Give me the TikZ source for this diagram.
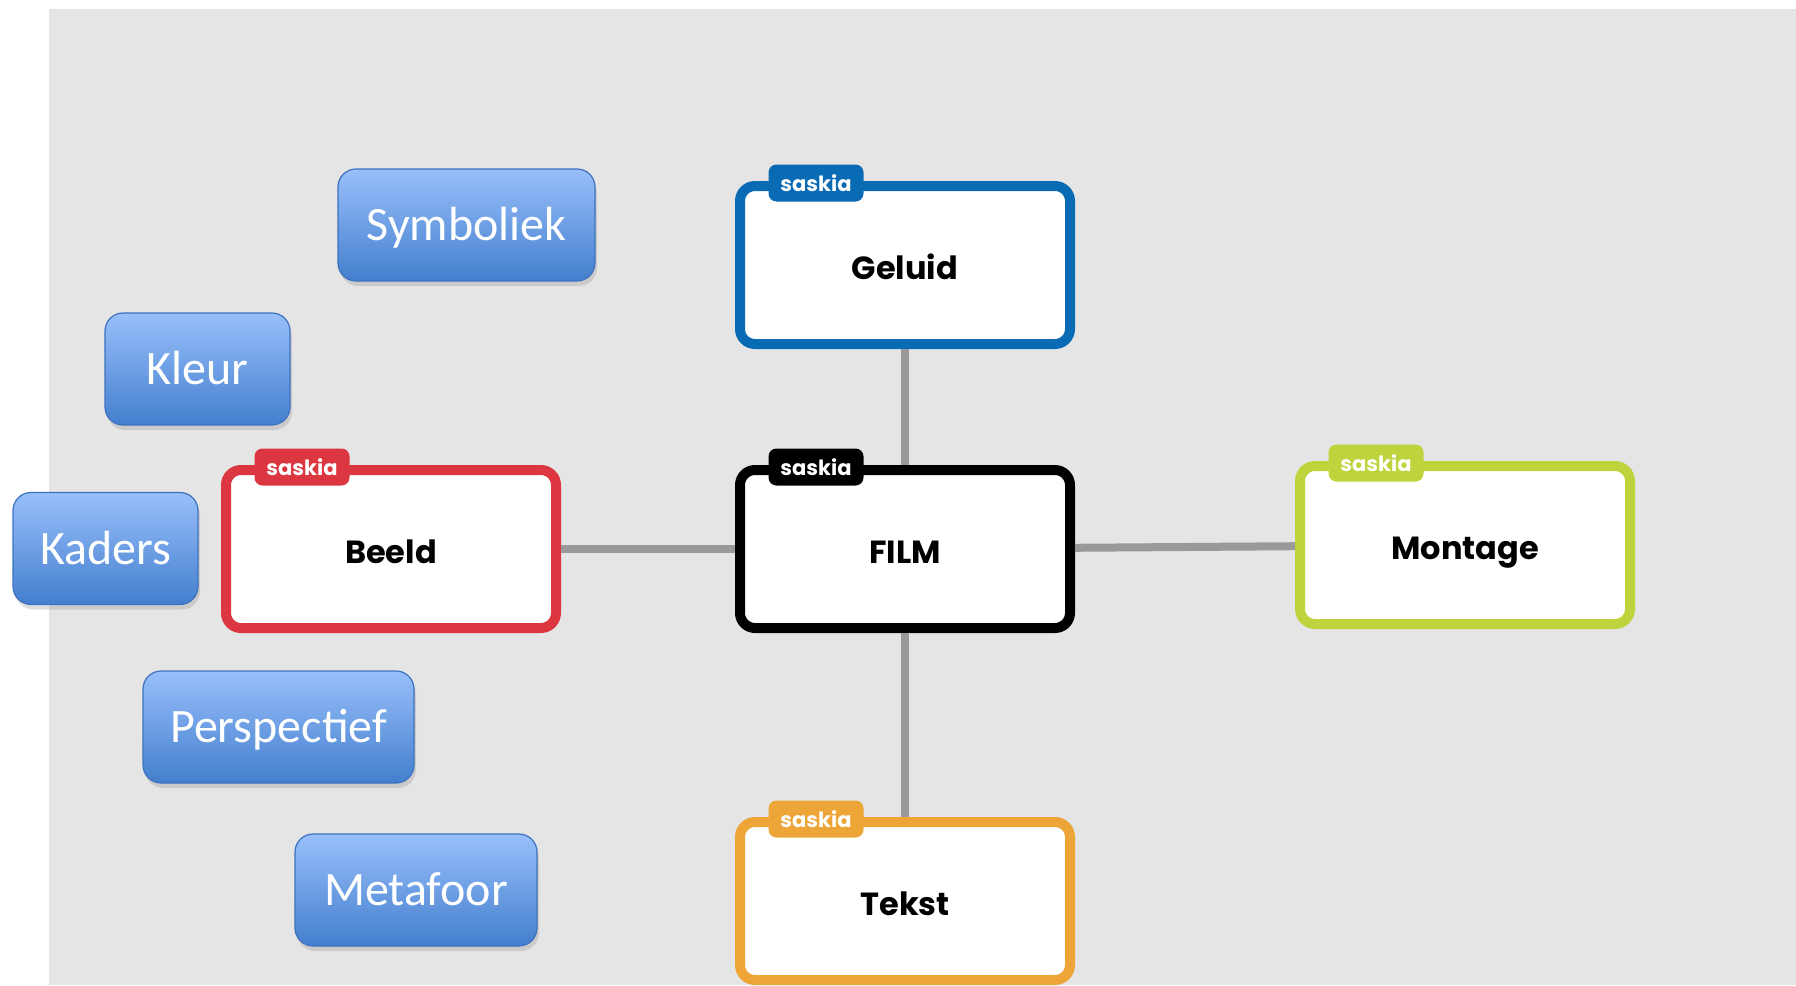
\documentclass[tikz,border=0pt]{standalone}
\usepackage{fontspec}
\usetikzlibrary{positioning,shadows,shapes}
\newfontfamily\labelfont{Poppins}
\newfontfamily\cardfont{Carlito}
\definecolor{canvas}{HTML}{E5E5E5}
\definecolor{linkgray}{HTML}{999999}
\definecolor{geluid}{HTML}{0A6BB5}
\definecolor{beeld}{HTML}{DC3741}
\definecolor{montage}{HTML}{BED33C}
\definecolor{tekst}{HTML}{EEA537}
\definecolor{cardtop}{HTML}{99BFFB}
\definecolor{cardbottom}{HTML}{437FCE}
\definecolor{cardedge}{HTML}{3D72BF}

\begin{document}
\begin{tikzpicture}[
    x=1pt, y=1pt,
    base/.style = {rectangle, rounded corners=15pt, line width=10pt, draw=black, fill=white, minimum width=330pt, minimum height=158pt, text height=28pt, text depth=0pt, font=\labelfont\bfseries\fontsize{32}{38}\selectfont},
    theme/.style = {base, draw=#1},
    tag/.style = {rectangle, rounded corners=8pt, minimum width=95pt, minimum height=37pt, inner sep=0pt, text=white, fill=#1, font=\labelfont\bfseries\fontsize{21}{24}\selectfont},
    card/.style = {rectangle, rounded corners=18pt, draw=cardedge, line width=1.2pt, top color=cardtop, bottom color=cardbottom, text=white, minimum height=112pt, inner sep=0pt, text height=31pt, text depth=0pt, font=\cardfont\fontsize{48}{54}\selectfont, drop shadow={shadow xshift=2pt, shadow yshift=-5pt, opacity=0.25}},
    link/.style = {draw=linkgray, line width=8pt},
]

    % canvas
    \useasboundingbox (0,0) rectangle (1796,-985);
    \fill[white] (0,0) rectangle (1796,-985);
    \fill[canvas] (49,-9) rectangle (1796,-985);

    % themes
    \node[base] (film) at (905,-549) {FILM};
    \node[theme=geluid, above of = film, node distance=284pt] (geluid) {Geluid};
    \node[theme=beeld, left of = film, node distance=514pt] (beeld) {Beeld};
    \node[theme=montage, right of = film, node distance=560pt, yshift=4pt] (montage) {Montage};
    \node[theme=tekst, below of = film, node distance=352pt] (tekst) {Tekst};

    % tags
    \node[tag=black] (filmtag) at ([xshift=-89pt, yshift=-2pt]film.north) {saskia};
    \node[tag=geluid] (geluidtag) at ([xshift=-89pt, yshift=-2pt]geluid.north) {saskia};
    \node[tag=beeld] (beeldtag) at ([xshift=-89pt, yshift=-2pt]beeld.north) {saskia};
    \node[tag=montage] (montagetag) at ([xshift=-89pt, yshift=-2pt]montage.north) {saskia};
    \node[tag=tekst] (teksttag) at ([xshift=-89pt, yshift=-2pt]tekst.north) {saskia};

    % links
    \draw[link] (film) -- (geluid);
    \draw[link] (film) -- (beeld);
    \draw[link] (film) -- (montage);
    \draw[link] (film) -- (tekst);

    % cards
    \node[card, minimum width=257pt] (symboliek) at (466.5,-225) {Symboliek};
    \node[card, minimum width=185pt] (kleur) at (197.5,-369) {Kleur};
    \node[card, minimum width=185pt] (kaders) at (105.5,-548.5) {Kaders};
    \node[card, minimum width=271pt] (perspectief) at (278.5,-727) {Perspectief};
    \node[card, minimum width=242pt] (metafoor) at (416,-890) {Metafoor};

\end{tikzpicture}
\end{document}
